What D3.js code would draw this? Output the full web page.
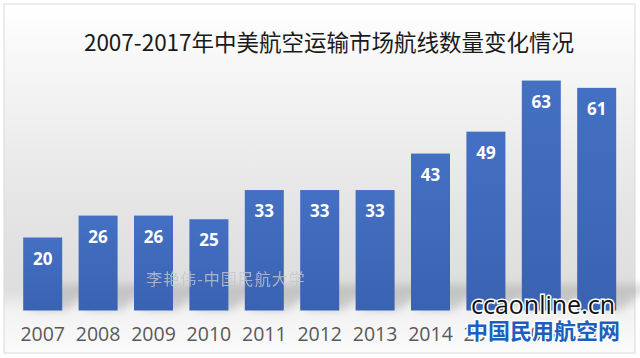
<!DOCTYPE html>
<html><head><meta charset="utf-8">
<script src="https://cdn.jsdelivr.net/npm/d3@7"></script>
<style>html,body{margin:0;padding:0;background:#fff;}svg{display:block;}</style>
</head><body>
<div id="chart"></div>
<script>
const titleText = "2007-2017年中美航空运输市场航线数量变化情况";
const years = ["2007","2008","2009","2010","2011","2012","2013","2014","2015","2016","2017"];
const routes = [20,26,26,25,33,33,33,43,49,63,61];

const W = 640, H = 358;
const svg = d3.select("#chart").append("svg").attr("width", W).attr("height", H);
const defs = svg.append("defs");

const bg = defs.append("linearGradient").attr("id","bg").attr("x1",0).attr("y1",0).attr("x2",0).attr("y2",1);
[[0,"#ffffff"],[0.25,"#f3f3f3"],[0.6,"#e4e4e4"],[0.82,"#dedede"],[0.88,"#f2f2f2"],[1,"#fbfbfb"]]
  .forEach(([o,c])=>bg.append("stop").attr("offset",o).attr("stop-color",c));

const barG = defs.append("linearGradient").attr("id","barg").attr("x1",0).attr("y1",0).attr("x2",0).attr("y2",1);
[[0,"#4470c3"],[1,"#3a62b2"]].forEach(([o,c])=>barG.append("stop").attr("offset",o).attr("stop-color",c));

defs.append("filter").attr("id","blur").attr("x","-50%").attr("y","-50%").attr("width","200%").attr("height","200%")
  .append("feGaussianBlur").attr("stdDeviation",4);

svg.append("rect").attr("x",4).attr("y",4).attr("width",W-9).attr("height",H-9)
  .attr("fill","url(#bg)").attr("stroke","#d9d9d9").attr("stroke-width",1);

const x = d3.scaleBand().domain(years).range([15, 15 + 11*55.4]).paddingInner(0.296).paddingOuter(0.148);
const y = d3.scaleLinear().domain([0,70]).range([310.5, 310.5 - 70*3.65]);

// shadows
svg.append("g").selectAll("path").data(years).join("path")
  .attr("d", (d)=>{
    const x0 = x(d), bw = x.bandwidth(), b = y(0);
    return `M${x0+4},${b} L${x0+bw+4},${b} L${x0+bw+34},${b-26} L${x0+34},${b-26} Z`;
  })
  .attr("fill","#9a9a9a").attr("opacity",0.4).attr("filter","url(#blur)");

// bars
svg.append("g").selectAll("rect").data(routes).join("rect")
  .attr("x",(d,i)=>x(years[i])).attr("y",d=>y(d))
  .attr("width",x.bandwidth()).attr("height",d=>y(0)-y(d))
  .attr("fill","url(#barg)");

// value labels
svg.append("g").selectAll("text").data(routes).join("text")
  .attr("x",(d,i)=>x(years[i])+x.bandwidth()/2).attr("y",d=>y(d)+27)
  .attr("text-anchor","middle").attr("fill","#fff")
  .attr("font-family","'Open Sans','Noto Sans',sans-serif").attr("font-weight","bold").attr("font-size",17)
  .text(d=>d);

// x axis
const xAxis = svg.append("g").attr("transform",`translate(0,${y(0)})`).call(d3.axisBottom(x).tickSize(0).tickPadding(17));
xAxis.select(".domain").remove();
xAxis.selectAll("text").attr("font-family","'Open Sans','Noto Sans',sans-serif").attr("font-size",19.5).attr("fill","#595959");

// title
svg.append("text").attr("x",329).attr("y",51).attr("text-anchor","middle")
  .attr("font-family","'Noto Sans CJK SC',sans-serif").attr("font-size",22.5).attr("fill","#1a1a1a")
  .text(titleText);

// watermarks
svg.append("text").attr("x",226).attr("y",285).attr("text-anchor","middle")
  .attr("font-family","'Noto Sans CJK SC',sans-serif").attr("font-size",16).attr("letter-spacing",1)
  .attr("fill","#c4c6cc").attr("opacity",0.8).text("李艳伟-中国民航大学");

svg.append("text").attr("x",543).attr("y",314).attr("text-anchor","middle")
  .attr("font-family","'Open Sans','DejaVu Sans',sans-serif").attr("font-size",25)
  .attr("fill","#111").attr("stroke","#fff").attr("stroke-width",3).attr("paint-order","stroke")
  .text("ccaonline.cn");
svg.append("text").attr("x",543).attr("y",339).attr("text-anchor","middle")
  .attr("font-family","'Noto Sans CJK SC',sans-serif").attr("font-weight","bold").attr("font-size",22)
  .attr("fill","#1d5fbd").attr("stroke","#fff").attr("stroke-width",3).attr("paint-order","stroke")
  .text("中国民用航空网");
</script>
</body></html>
